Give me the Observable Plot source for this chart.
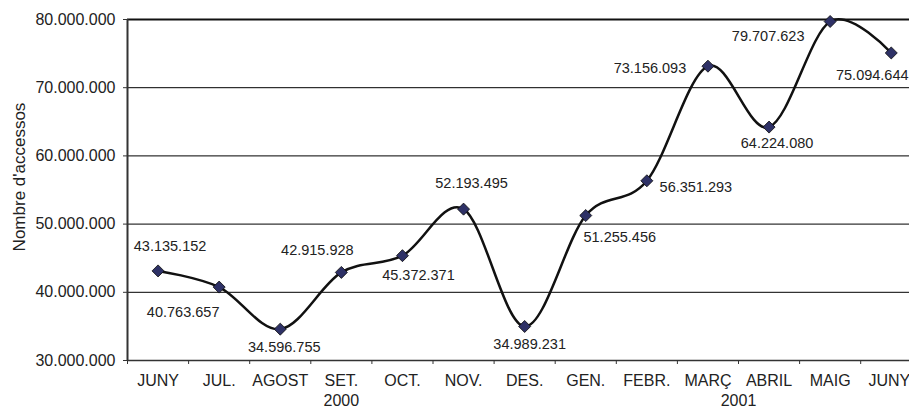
<!DOCTYPE html>
<html><head><meta charset="utf-8">
<script src="https://cdn.jsdelivr.net/npm/d3@7"></script>
<script src="https://cdn.jsdelivr.net/npm/@observablehq/plot@0.6"></script>
<style>body{margin:0;background:#fff} svg{display:block}</style>
</head><body><div id="chart"></div>
<script>
const months = ["JUNY","JUL.","AGOST","SET.","OCT.","NOV.","DES.","GEN.","FEBR.","MARÇ","ABRIL","MAIG","JUNY"];
const accessos = [43135152, 40763657, 34596755, 42915928, 45372371, 52193495, 34989231, 51255456, 56351293, 73156093, 64224080, 79707623, 75094644];
const years = ["2000", "2001"];
const yearAt = [3, 9.5];
const yTicks = [30e6, 40e6, 50e6, 60e6, 70e6, 80e6];
const yAxisTitle = "Nombre d'accessos";

// label placement (style only)
const labelDx = [12, -36, 4, -24, 16, 8, 5, 34, 49, -58, 8, -62, -19];
const labelDy = [-25, 25, 18, -22, 20, -26, 18, 22, 7, 2, 16, 15, 22];

const fmt = d3.formatLocale({decimal: ",", thousands: ".", grouping: [3], currency: ["", "€"]}).format(",d");
const data = months.map((m, i) => ({i, m, v: accessos[i]}));

const W = 909, H = 410, ML = 127, MR = 0;
const step = 61.1;
const xMax = (W - ML - MR) / step - 0.5;
const FONT = "'Liberation Sans', Arial, sans-serif";

const chart = Plot.plot({
  width: W, height: H,
  marginLeft: ML, marginRight: MR, marginTop: 19, marginBottom: 50,
  style: {fontFamily: FONT, background: "#fff", color: "#222"},
  x: {type: "linear", domain: [-0.5, xMax], label: null},
  y: {domain: [30e6, 80e6], label: null},
  marks: [
    Plot.gridY(yTicks.slice(1, -1), {stroke: "#000", strokeOpacity: 1, strokeWidth: 1}),
    Plot.ruleY([80e6], {stroke: "#111", strokeWidth: 2}),
    Plot.ruleY([30e6], {stroke: "#333", strokeWidth: 1.5}),
    Plot.ruleX([-0.5], {stroke: "#333", strokeWidth: 2}),
    Plot.axisY(yTicks, {tickSize: 4, tickPadding: 8, tickFormat: fmt, fontSize: 16, label: null, stroke: "#333"}),
    Plot.axisX(d3.range(-0.5, xMax, 1), {tickSize: 4, tickFormat: () => "", label: null, stroke: "#333"}),
    Plot.axisX(d3.range(months.length - 1), {tickSize: 0, tickPadding: 14, tickFormat: i => months[i], fontSize: 16, label: null}),
    Plot.axisX([months.length - 1], {tickSize: 0, tickPadding: 14, tickFormat: i => months[i], fontSize: 16, label: null, textAnchor: "end", dx: 19}),
    Plot.text(years, {x: (d, k) => yearAt[k], frameAnchor: "bottom", dy: 45, fontSize: 16, fill: "#222"}),
    Plot.text([yAxisTitle], {frameAnchor: "left", textAnchor: "middle", rotate: -90, dx: -108, dy: -13, fontSize: 17, fill: "#222"}),
    Plot.line(data, {x: "i", y: "v", curve: "cardinal", stroke: "#111", strokeWidth: 2.5}),
    Plot.dot(data, {x: "i", y: "v", symbol: "square", rotate: 45, r: 4.8, fill: "#2e3166", stroke: "#111", strokeWidth: 0.8}),
    ...data.map((d, k) => Plot.text([d], {x: "i", y: "v", text: e => fmt(e.v), dx: labelDx[k], dy: labelDy[k], fontSize: 14.5, fill: "#222"}))
  ]
});
document.getElementById("chart").append(chart);
</script>
</body></html>
